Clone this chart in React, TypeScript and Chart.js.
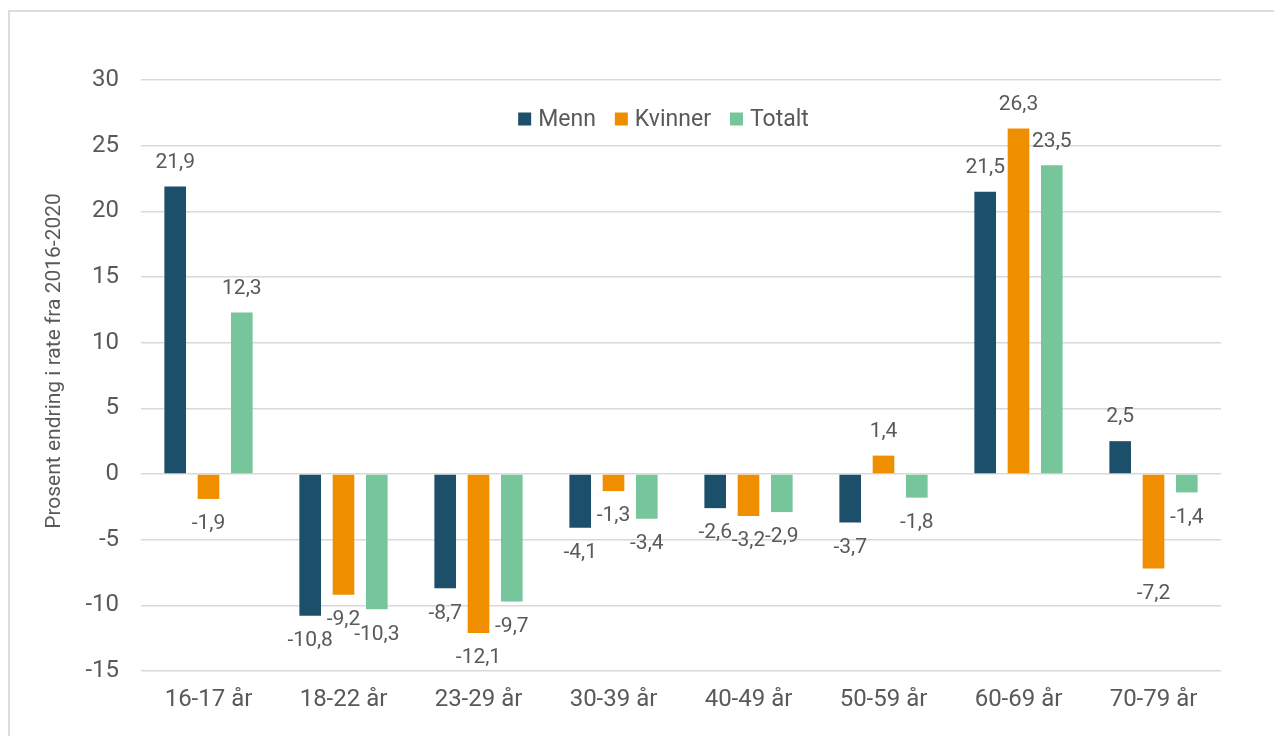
import React, { useEffect, useRef } from "react";
import { Chart, registerables } from "chart.js";

Chart.register(...registerables);

const categories = ["16-17 år", "18-22 år", "23-29 år", "30-39 år", "40-49 år", "50-59 år", "60-69 år", "70-79 år"];
const seriesNames = ["Menn", "Kvinner", "Totalt"];
const menn = [21.9, -10.8, -8.7, -4.1, -2.6, -3.7, 21.5, 2.5];
const kvinner = [-1.9, -9.2, -12.1, -1.3, -3.2, 1.4, 26.3, -7.2];
const totalt = [12.3, -10.3, -9.7, -3.4, -2.9, -1.8, 23.5, -1.4];
const seriesColors = ["#1B4F6A", "#EF8F00", "#77C59A"];
const yMin = -15;
const yMax = 30;
const yStep = 5;
const yTitle = "Prosent endring i rate fra 2016-2020";

const FONT = "Roboto, 'Noto Sans', sans-serif";
const TEXT = "#595959";

const fmt = (v: number) => v.toFixed(1).replace(".", ",");

const dataLabelPlugin = {
  id: "dataLabels",
  afterDatasetsDraw(chart: any) {
    const ctx = chart.ctx;
    ctx.save();
    ctx.font = `21px ${FONT}`;
    ctx.fillStyle = TEXT;
    ctx.textAlign = "center";
    ctx.textBaseline = "middle";
    chart.data.datasets.forEach((ds: any, di: number) => {
      const meta = chart.getDatasetMeta(di);
      meta.data.forEach((el: any, i: number) => {
        const v = ds.data[i];
        const y = v >= 0 ? el.y - 24 : el.y + 25;
        ctx.fillText(fmt(v), el.x, y);
      });
    });
    ctx.restore();
  },
};

const legendPlugin = {
  id: "customLegend",
  afterDraw(chart: any) {
    const ctx = chart.ctx;
    ctx.save();
    ctx.font = `23px ${FONT}`;
    ctx.textBaseline = "middle";
    ctx.textAlign = "left";
    const box = 13;
    const gap = 7;
    const itemGap = 19;
    const items = chart.data.datasets.map((ds: any) => ({
      label: ds.label,
      color: ds.backgroundColor,
      w: ctx.measureText(ds.label).width,
    }));
    const total = items.reduce((s: number, it: any) => s + box + gap + it.w, 0) + itemGap * (items.length - 1);
    const cy = 119;
    let x = 663.5 - total / 2;
    items.forEach((it: any) => {
      ctx.fillStyle = it.color;
      ctx.fillRect(x, cy - box / 2, box, box);
      x += box + gap;
      ctx.fillStyle = TEXT;
      ctx.fillText(it.label, x, cy + 1);
      x += it.w + itemGap;
    });
    ctx.restore();
  },
};

const yTitlePlugin = {
  id: "yTitle",
  afterDraw(chart: any) {
    const ctx = chart.ctx;
    ctx.save();
    ctx.font = `21px ${FONT}`;
    ctx.fillStyle = TEXT;
    ctx.textAlign = "center";
    ctx.textBaseline = "middle";
    ctx.translate(55, 361);
    ctx.rotate(-Math.PI / 2);
    ctx.fillText(yTitle, 0, 0);
    ctx.restore();
  },
};

export default function App() {
  const ref = useRef<HTMLCanvasElement | null>(null);
  useEffect(() => {
    if (!ref.current) return;
    const values = [menn, kvinner, totalt];
    const chart = new Chart(ref.current, {
      type: "bar",
      data: {
        labels: categories,
        datasets: seriesNames.map((name, i) => ({
          label: name,
          data: values[i],
          backgroundColor: seriesColors[i],
          borderWidth: 0,
          categoryPercentage: 0.74,
          barPercentage: 0.65,
        })),
      },
      options: {
        responsive: false,
        animation: false,
        layout: { padding: { left: 0, right: 53, top: 80, bottom: 0 } },
        plugins: {
          legend: { display: false },
          tooltip: { enabled: false },
        },
        scales: {
          x: {
            grid: { display: false, drawTicks: false },
            border: { display: false },
            ticks: { color: TEXT, font: { family: FONT, size: 24 }, padding: 15 },
            afterFit(scale: any) {
              scale.height = 65;
            },
          },
          y: {
            min: yMin,
            max: yMax,
            grid: { color: "#d9d9d9", lineWidth: 1.5, drawTicks: false },
            border: { display: false },
            ticks: {
              stepSize: yStep,
              color: TEXT,
              font: { family: FONT, size: 24 },
              padding: 22,
              callback: (v: any) => String(v),
            },
            afterFit(scale: any) {
              scale.width = 141;
            },
          },
        },
      },
      plugins: [dataLabelPlugin, legendPlugin, yTitlePlugin],
    });
    return () => chart.destroy();
  }, []);

  return (
    <div style={{ position: "fixed", left: 0, top: 0, width: 1274, height: 736, background: "#fff", overflow: "hidden" }}>
      <div
        style={{
          position: "absolute",
          left: 8,
          top: 10,
          width: 1300,
          height: 800,
          border: "2px solid #dcdcdc",
        }}
      />
      <canvas ref={ref} width={1274} height={736} style={{ position: "absolute", left: 0, top: 0 }} />
    </div>
  );
}
